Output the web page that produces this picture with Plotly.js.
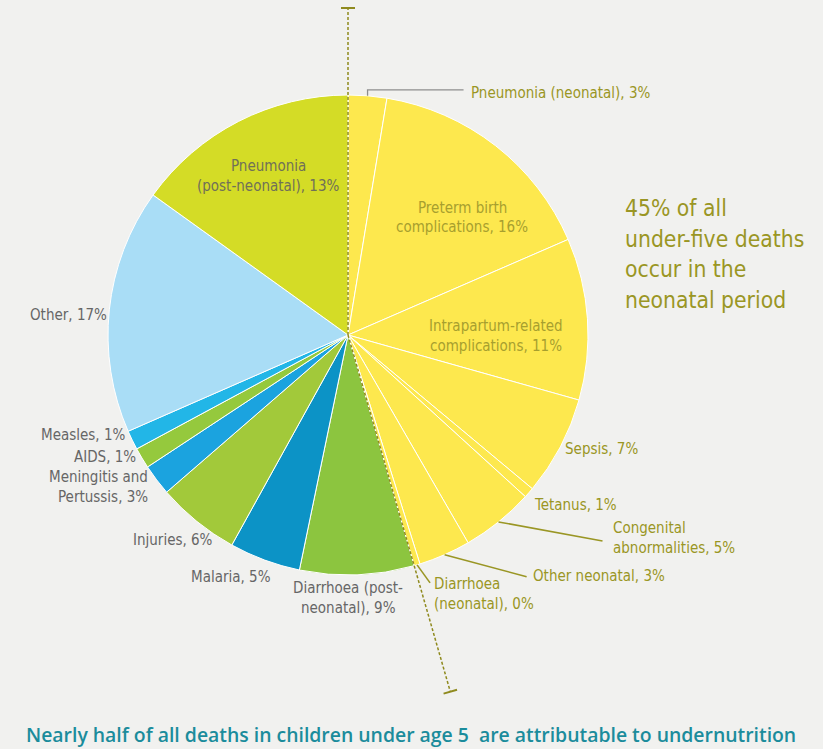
<!DOCTYPE html>
<html>
<head>
<meta charset="utf-8">
<script src="https://cdn.plot.ly/plotly-3.0.1.min.js"></script>
<style>
  html, body { margin: 0; padding: 0; background: #F1F1EF; }
  #chart { width: 823px; height: 749px; }
</style>
</head>
<body>
<div id="chart"></div>
<script>
// ---------------- DATA ----------------
const causes = [
  'Pneumonia (neonatal)',
  'Preterm birth<br>complications',
  'Intrapartum-related<br>complications',
  'Sepsis',
  'Tetanus',
  'Congenital<br>abnormalities',
  'Other neonatal',
  'Diarrhoea<br>(neonatal)',
  'Diarrhoea (post-<br>neonatal)',
  'Malaria',
  'Injuries',
  'Meningitis and<br>Pertussis',
  'AIDS',
  'Measles',
  'Other',
  'Pneumonia<br>(post-neonatal)'
];
// printed percentages (as labelled on the chart)
const printedPct = [3, 16, 11, 7, 1, 5, 3, 0, 9, 5, 6, 3, 1, 1, 17, 13];
// slice shares as drawn in the picture (measured from slice angles)
const sliceShares = [2.6, 15.9, 10.9, 6.7, 0.7, 4.9, 3.5, 0.4, 7.7, 4.8, 5.6, 2.1, 1.4, 1.3, 16.5, 15.1];
const neonatalCount = 8;   // first 8 causes are neonatal
const neonatalText = ['45% of all', 'under-five deaths', 'occur in the', 'neonatal period'];
const footerText = 'Nearly half of all deaths in children under age 5  are attributable to undernutrition';

// ---------------- STYLE ----------------
const W = 823, H = 749;
const CX = 348, CY = 335, R = 240;
const BG = '#F1F1EF';
const OLIVE = '#9A9624';
const OLIVE_IN = '#A79F2E';
const GREY = '#666666';
const GREY_IN = '#707058';
const sliceColors = [
  '#FDE84E', '#FDE84E', '#FDE84E', '#FDE84E', '#FDE84E', '#FDE84E', '#FDE84E', '#FDE84E',
  '#8CC53F', '#0C93C6', '#A2C93A', '#1BA3DF', '#95C93D', '#22B6E7', '#A9DDF6', '#D4DC26'
];
// label placement: anchor at polar(mid angle, rf*R) + (dx,dy) pixels
const labelStyle = [
  {rf: 1,    dx: 101, dy: -3,  xa: 'left',   c: OLIVE,    leader: 'elbow', lc: '#8E8E8E'},
  {rf: 0.7,  dx: 11,  dy: 15,  xa: 'center', c: OLIVE_IN},
  {rf: 0.62, dx: 0,   dy: 11,  xa: 'center', c: OLIVE_IN},
  {rf: 1,    dx: 3,   dy: 2,   xa: 'left',   c: OLIVE},
  {rf: 1,    dx: 3,   dy: 12,  xa: 'left',   c: OLIVE},
  {rf: 1,    dx: 112, dy: 16,  xa: 'left',   c: OLIVE, leader: 'line', end: [-8, 3], lc: OLIVE},
  {rf: 1,    dx: 86,  dy: 21,  xa: 'left',   c: OLIVE, leader: 'line', end: [-4, 1], lc: OLIVE},
  {rf: 1,    dx: 15,  dy: 29,  xa: 'left',   c: OLIVE, leader: 'line', end: [-2, -11], lc: OLIVE},
  {rf: 1,    dx: -9,  dy: 23,  xa: 'center', c: GREY},
  {rf: 1,    dx: -34, dy: 17,  xa: 'center', c: GREY},
  {rf: 1,    dx: -24, dy: 19,  xa: 'center', c: GREY},
  {rf: 1,    dx: -7,  dy: 7,   xa: 'right',  c: GREY},
  {rf: 1,    dx: -4,  dy: -1,  xa: 'right',  c: GREY},
  {rf: 1,    dx: -5,  dy: -5,  xa: 'right',  c: GREY},
  {rf: 1,    dx: 0,   dy: 5,   xa: 'right',  c: GREY},
  {rf: 0.75, dx: 3,   dy: 1,   xa: 'center', c: GREY_IN}
];
const FONT = '"DejaVu Sans Condensed", "Liberation Sans Narrow", Roboto, sans-serif';
const LABEL_SIZE = 15, LABEL_LINE = 19.5;

// ---------------- HELPERS ----------------
const total = sliceShares.reduce((a, b) => a + b, 0);
const mids = [];
let cum = 0;
sliceShares.forEach(v => { const s = cum; cum += v; mids.push((s + cum) / 2 / total * 360); });
const neoAngle = sliceShares.slice(0, neonatalCount).reduce((a, b) => a + b, 0) / total * 360;
function P(deg, r) { const t = deg * Math.PI / 180; return [CX + r * Math.sin(t), CY - r * Math.cos(t)]; }
const fx = x => x / W, fy = y => 1 - y / H;

const annotations = [];
const shapes = [];

causes.forEach((name, i) => {
  const st = labelStyle[i];
  const base = P(mids[i], R * st.rf);
  const pos = [base[0] + st.dx, base[1] + st.dy];
  const txt = name + ', ' + printedPct[i] + '%';
  const lines = txt.split('<br>');
  lines.forEach((ln, k) => {
    const y = pos[1] + (k - (lines.length - 1) / 2) * LABEL_LINE;
    annotations.push({
      xref: 'paper', yref: 'paper', x: fx(pos[0]), y: fy(y),
      xanchor: st.xa, yanchor: 'middle', showarrow: false, text: ln,
      font: {family: FONT, size: LABEL_SIZE, color: st.c, stretch: 'condensed'}
    });
  });
  const edge = P(mids[i], R);
  if (st.leader === 'elbow') {
    const yy = pos[1] - 3;
    shapes.push({type: 'path', xref: 'paper', yref: 'paper', layer: 'above',
      path: `M ${fx(edge[0])} ${fy(edge[1])} L ${fx(edge[0])} ${fy(yy)} L ${fx(pos[0] - 5)} ${fy(yy)}`,
      line: {color: st.lc, width: 1.3}});
  } else if (st.leader === 'line') {
    shapes.push({type: 'line', xref: 'paper', yref: 'paper', layer: 'above',
      x0: fx(edge[0]), y0: fy(edge[1]), x1: fx(pos[0] + st.end[0]), y1: fy(pos[1] + st.end[1]),
      line: {color: st.lc, width: 1.6}});
  }
});

// neonatal divider (dashed line with end caps)
function divider(angle, lenFactor) {
  const end = P(angle, R * lenFactor);
  shapes.push({type: 'line', xref: 'paper', yref: 'paper', layer: 'above',
    x0: fx(CX), y0: fy(CY), x1: fx(end[0]), y1: fy(end[1]),
    line: {color: '#8F8A1E', width: 1.5, dash: '3px,2px'}});
  const t = angle * Math.PI / 180, h = 7;
  const px = Math.cos(t) * h, py = Math.sin(t) * h;
  shapes.push({type: 'line', xref: 'paper', yref: 'paper', layer: 'above',
    x0: fx(end[0] - px), y0: fy(end[1] - py), x1: fx(end[0] + px), y1: fy(end[1] + py),
    line: {color: '#8F8A1E', width: 2}});
}
divider(0, 1.3625);
divider(neoAngle, 1.546);

// right-hand statement
neonatalText.forEach((ln, k) => {
  annotations.push({xref: 'paper', yref: 'paper', x: fx(623), y: fy(208 + k * 30.7),
    xanchor: 'left', yanchor: 'middle', showarrow: false, text: ln,
    font: {family: FONT, size: 22.7, color: OLIVE, stretch: 'condensed'}});
});

// footer
annotations.push({xref: 'paper', yref: 'paper', x: fx(411), y: fy(734),
  xanchor: 'center', yanchor: 'middle', showarrow: false, text: footerText,
  font: {family: '"Open Sans", sans-serif', size: 19.4, weight: 600, color: '#1B8C9C'}});

const trace = {
  type: 'pie',
  values: sliceShares,
  labels: causes.map(c => c.replace('<br>', ' ')),
  sort: false,
  direction: 'clockwise',
  rotation: 0,
  textinfo: 'none',
  hoverinfo: 'label',
  marker: {colors: sliceColors, line: {color: '#FFFFFF', width: 1}},
  domain: {x: [fx(CX - R), fx(CX + R)], y: [fy(CY + R), fy(CY - R)]},
  showlegend: false
};

Plotly.newPlot('chart', [trace], {
  width: W, height: H,
  margin: {l: 0, r: 0, t: 0, b: 0},
  paper_bgcolor: BG, plot_bgcolor: BG,
  showlegend: false,
  annotations: annotations,
  shapes: shapes
}, {displayModeBar: false, staticPlot: true});
</script>
</body>
</html>
